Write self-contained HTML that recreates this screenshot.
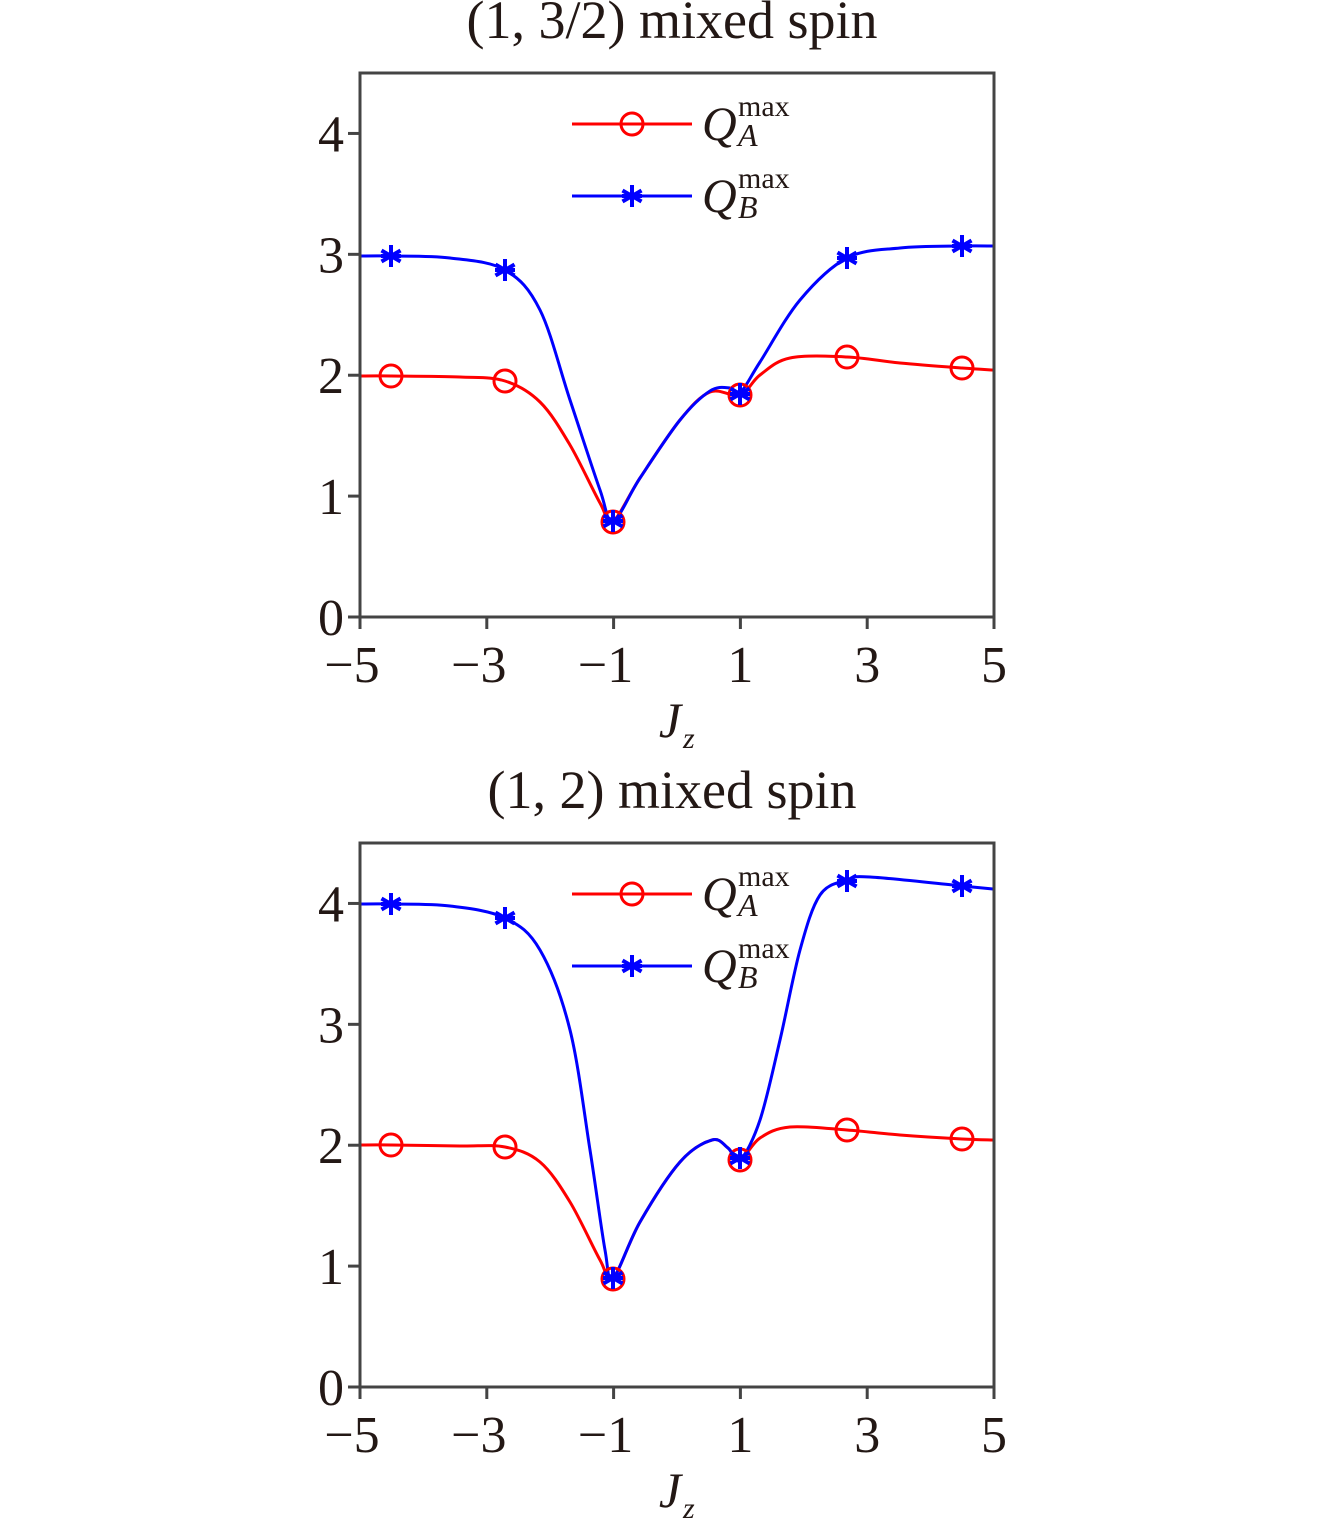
<!DOCTYPE html>
<html><head><meta charset="utf-8"><style>
html,body{margin:0;padding:0;background:#fff;}
svg{display:block;}
text{font-family:"Liberation Serif",serif;fill:#231815;}
</style></head><body>
<svg id="s" width="1319" height="1522" viewBox="0 0 1319 1522" xmlns="http://www.w3.org/2000/svg">
<g id="g"></g>
</svg>
<script>
const NS="http://www.w3.org/2000/svg";
const g=document.getElementById('g');
function el(t,a,txt){const e=document.createElementNS(NS,t);for(const k in a)e.setAttribute(k,a[k]);if(txt!=null)e.textContent=txt;g.appendChild(e);return e;}
function cr(p){let d=`M${p[0][0]},${p[0][1]}`;for(let i=0;i<p.length-1;i++){const p0=p[i-1]||p[i],p1=p[i],p2=p[i+1],p3=p[i+2]||p2;const c1=[p1[0]+(p2[0]-p0[0])/6,p1[1]+(p2[1]-p0[1])/6],c2=[p2[0]-(p3[0]-p1[0])/6,p2[1]-(p3[1]-p1[1])/6];d+=`C${c1[0]},${c1[1]} ${c2[0]},${c2[1]} ${p2[0]},${p2[1]}`;}return d;}
function circ(x,y){el('circle',{cx:x,cy:y,r:11,fill:'none',stroke:'#f00','stroke-width':3});}
function star(x,y){const r=11;let d='';for(let a=0;a<180;a+=60){const t=(a+90)*Math.PI/180;d+=`M${x-r*Math.cos(t)},${y-r*Math.sin(t)}L${x+r*Math.cos(t)},${y+r*Math.sin(t)}`;}d+=`M${x-10},${y}L${x+10},${y}`;el('path',{d:d,stroke:'#00f','stroke-width':4,fill:'none'});}
function plot(top,bot,title,blue,red,mx){
  const x0=360,x1=994;
  el('text',{x:672,y:top-35,'font-size':54,'text-anchor':'middle'},title);
  const uy=(bot-top)/4.5, ux=(x1-x0)/10;
  el('path',{d:cr(red),stroke:'#f00','stroke-width':3,fill:'none'});
  el('path',{d:cr(blue),stroke:'#00f','stroke-width':3,fill:'none'});
  el('rect',{x:x0,y:top,width:x1-x0,height:bot-top,fill:'none',stroke:'#444','stroke-width':3});
  for(let i=0;i<=4;i++){const y=bot-i*uy;el('line',{x1:x0-12,x2:x0,y1:y,y2:y,stroke:'#444','stroke-width':3});el('text',{x:344,y:y+18,'font-size':52,'text-anchor':'end'},String(i));}
  [-5,-3,-1,1,3,5].forEach(v=>{const x=x0+(v+5)*ux;el('line',{x1:x,x2:x,y1:bot,y2:bot+12,stroke:'#444','stroke-width':3});el('text',{x:x+(v<0?-8:0),y:bot+65,'font-size':52,'text-anchor':'middle'},(v<0?'\u2212':'')+Math.abs(v));});
  el('text',{x:670,y:bot+120,'font-size':50,'font-style':'italic','text-anchor':'middle'},'J');
  el('text',{x:683,y:bot+131,'font-size':30,'font-style':'italic'},'z');
  mx.forEach(m=>{circ(m[0],m[1]);});
  mx.forEach(m=>{star(m[0],m[2]);});
  const ly1=top+51,ly2=top+123;
  el('line',{x1:572,x2:692,y1:ly1,y2:ly1,stroke:'#f00','stroke-width':3});circ(632,ly1);
  el('line',{x1:572,x2:692,y1:ly2,y2:ly2,stroke:'#00f','stroke-width':3});star(632,ly2);
  [[ly1,'A'],[ly2,'B']].forEach(q=>{
    el('text',{x:702,y:q[0]+16,'font-size':48,'font-style':'italic'},'Q');
    el('text',{x:738,y:q[0]-8,'font-size':30},'max');
    el('text',{x:738,y:q[0]+22,'font-size':32,'font-style':'italic'},q[1]);
  });
}
plot(73,617,'(1, 3/2) mixed spin',
 [[360,256],[391,256],[450,258],[505,270],[540,310],[570,400],[600,490],[613,521],[640,478],[680,420],[710,391],[730,388],[740,393],[760,362],[800,300],[847,258],[900,248],[962,246],[993,246]],
 [[360,376],[391,376],[460,377],[505,381],[540,402],[570,445],[600,503],[613,521],[640,478],[680,420],[710,392],[740,395],[760,375],[790,358],[847,357],[900,363],[962,368],[993,370]],
 [[391,376,256],[505,381,270],[613,522,521],[740,395,394],[847,357,258],[962,368,246]]);
plot(843,1387,'(1, 2) mixed spin',
 [[360,904],[391,904],[450,906],[505,918],[540,950],[570,1030],[590,1150],[605,1250],[613,1278],[640,1222],[680,1162],[712,1140],[728,1148],[740,1160],[760,1120],[780,1040],[800,950],[820,895],[847,880],[870,877],[962,886],[993,889]],
 [[360,1145],[391,1145],[460,1146],[505,1147],[540,1162],[570,1202],[600,1260],[613,1278],[640,1222],[680,1162],[712,1140],[728,1148],[740,1160],[760,1138],[790,1127],[847,1130],[900,1135],[962,1139],[993,1140]],
 [[391,1145,904],[505,1147,918],[613,1279,1278],[740,1160,1158],[847,1130,881],[962,1139,886]]);
</script>
</body></html>
